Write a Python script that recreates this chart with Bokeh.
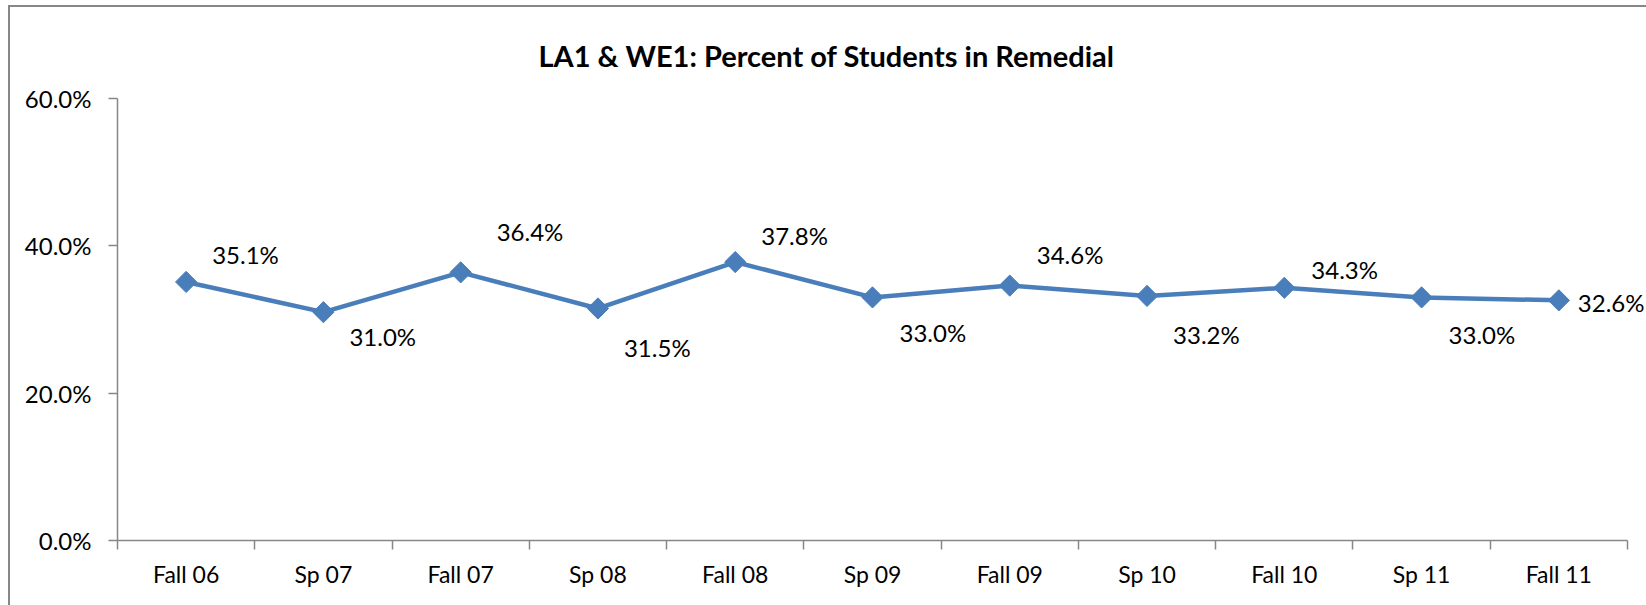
import numpy as np
from bokeh.plotting import figure
from bokeh.models import (ColumnDataSource, Range1d, FixedTicker, NumeralTickFormatter,
                          Label)
from bokeh.embed import file_html
from bokeh.resources import INLINE

# ---- data ----
categories = ["Fall 06", "Sp 07", "Fall 07", "Sp 08", "Fall 08", "Sp 09",
              "Fall 09", "Sp 10", "Fall 10", "Sp 11", "Fall 11"]
percent = [35.1, 31.0, 36.4, 31.5, 37.8, 33.0, 34.6, 33.2, 34.3, 33.0, 32.6]
y_ticks = [0.0, 0.2, 0.4, 0.6]
title_text = "LA1 & WE1: Percent of Students in Remedial"

# ---- label placement (style) ----
label_dx = [26, 26, 36, 26, 26, 27, 27, 26, 27, 27, 19]
label_dy = [27, -24, 41, -39, 27, -35, 31, -39, 18, -37, -2]

FONT = "Lato"
LINE_COLOR = "#4A7EBB"
AXIS_COLOR = "#878787"

W, H = 1646, 605
LEFT, TOP, BOTTOM = 117, 98, 65
AXIS_LEN = 1510          # pixel length of the category axis

n = len(categories)
xpos = [i + 0.5 for i in range(n)]
frac = [v / 100.0 for v in percent]
labels = ["%.1f%%" % v for v in percent]

# frame runs to the right edge so the last data label is not clipped;
# the axis itself is bounded to the categories
frame_w = W - LEFT
x_end = n * frame_w / AXIS_LEN

src = ColumnDataSource(dict(x=xpos, y=frac))

p = figure(width=W, height=H, output_backend="svg", toolbar_location=None,
           x_range=Range1d(0, x_end), y_range=Range1d(0, 0.6),
           min_border_left=LEFT, min_border_right=0, min_border_top=TOP,
           min_border_bottom=BOTTOM)
# chart-area border (top and left edges visible, as in the reference)
p.styles = {"box-shadow": ("inset 8px 0 0 0 white, inset 0 5px 0 0 white, "
                           "inset 10px 0 0 0 #878787, inset 0 7px 0 0 #878787")}

p.title.text = title_text
p.title.text_font = FONT
p.title.text_font_style = "bold"
p.title.text_font_size = "29px"
p.title.align = "left"
p.title.offset = 421
p.title.standoff = 52
p.title.text_color = "#000000"

p.outline_line_color = None
p.xgrid.visible = False
p.ygrid.visible = False
p.background_fill_color = None
p.border_fill_color = None

# x axis: labels at category centers, ticks at boundaries
xa = p.xaxis[0]
xa.bounds = (0, n)
xa.ticker = FixedTicker(ticks=xpos, minor_ticks=list(range(n + 1)))
xa.major_label_overrides = {x: c for x, c in zip(xpos, categories)}
xa.major_tick_line_color = None
xa.minor_tick_line_color = AXIS_COLOR
xa.minor_tick_line_width = 1.5
xa.minor_tick_out = 9
xa.minor_tick_in = 0
xa.axis_line_color = AXIS_COLOR
xa.axis_line_width = 1.5
xa.major_label_text_font = FONT
xa.major_label_text_font_size = "23px"
xa.major_label_text_color = "#000000"
xa.major_label_standoff = 10

ya = p.yaxis[0]
ya.ticker = FixedTicker(ticks=y_ticks)
ya.formatter = NumeralTickFormatter(format="0.0%")
ya.major_tick_line_color = AXIS_COLOR
ya.major_tick_line_width = 1.5
ya.major_tick_out = 9
ya.major_tick_in = 0
ya.minor_tick_line_color = None
ya.axis_line_color = AXIS_COLOR
ya.axis_line_width = 1.5
ya.major_label_text_font = FONT
ya.major_label_text_font_size = "24px"
ya.major_label_text_color = "#000000"
ya.major_label_standoff = 17

p.line("x", "y", source=src, line_color=LINE_COLOR, line_width=4.5)
p.scatter("x", "y", source=src, marker="square", size=15, angle=np.pi / 4,
          fill_color=LINE_COLOR, line_color=LINE_COLOR)

for xv, yv, txt, dx, dy in zip(xpos, frac, labels, label_dx, label_dy):
    p.add_layout(Label(x=xv, y=yv, text=txt, x_offset=dx, y_offset=dy,
                       text_align="left", text_baseline="middle", text_font=FONT,
                       text_font_size="24px", text_color="#000000"))

open("out.html", "w").write(file_html(p, INLINE))
